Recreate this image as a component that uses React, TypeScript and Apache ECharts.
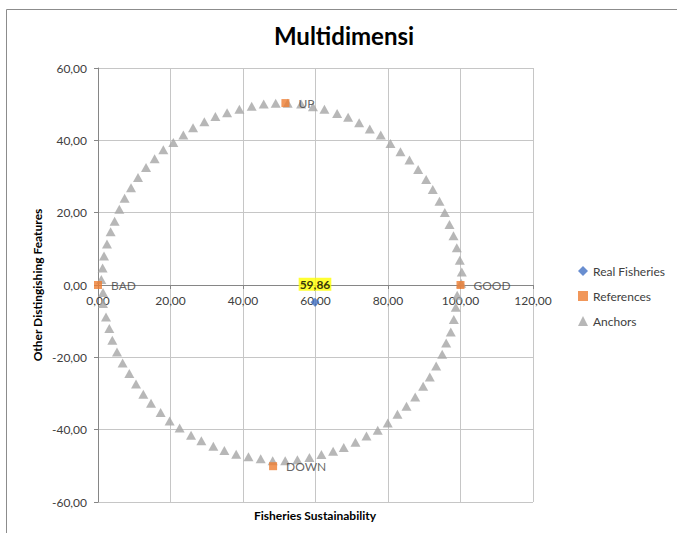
import React, { useEffect, useRef } from "react";
import * as echarts from "echarts";

const titleText = "Multidimensi";
const xAxisName = "Fisheries Sustainability";
const yAxisName = "Other Distingishing Features";
const seriesNames = ["Real Fisheries", "References", "Anchors"];

const realX = [59.86];
const realY = [-4.8];
const realLabels = ["59,86"];

const refNames = ["BAD", "GOOD", "UP", "DOWN"];
const refX = [0, 100, 51.7, 48.3];
const refY = [0, 0, 50.3, -50.1];

const anchorX = [
  0.91, 1.27, 1.66, 2.48, 3.48, 4.58, 5.88, 7.34, 9.11, 11.04, 13.25, 15.62, 18.02, 20.78, 23.54, 26.22,
  29.34, 32.38, 35.61, 39.0, 42.4, 45.71, 49.02, 52.33, 56.03, 59.29, 62.46, 65.97, 69.0, 72.04, 74.97,
  78.0, 80.68, 83.44, 85.92, 88.32, 90.53, 92.35, 94.2, 95.67, 96.96, 98.07, 98.98, 99.81, 100.36, 100.19,
  99.09, 98.7, 98.15, 97.32, 96.05, 94.95, 93.29, 91.53, 89.7, 87.5, 85.1, 82.61, 79.93, 77.17, 74.06,
  71.02, 67.79, 64.86, 61.63, 58.32, 55.01, 51.64, 48.19, 44.88, 41.51, 38.12, 34.86, 31.82, 28.51, 25.67,
  22.52, 19.76, 17.28, 14.63, 12.5, 10.49, 8.64, 6.79, 5.24, 3.95, 3.12, 2.21, 1.38, 1.38,
];
const anchorY = [
  1.52, 4.73, 8.05, 11.37, 14.69, 17.65, 20.97, 24.02, 26.87, 29.75, 32.51, 34.89, 37.38, 39.43, 41.45, 43.47,
  45.13, 46.62, 47.62, 48.56, 49.39, 50.03, 50.22, 50.22, 50.03, 49.28, 48.56, 47.45, 46.35, 44.85, 43.11,
  41.45, 39.15, 36.83, 34.53, 31.96, 29.19, 26.43, 23.19, 20.06, 16.74, 13.59, 10.27, 6.86, 3.62, 0.5,
  -2.82, -6.14, -9.55, -12.98, -16.02, -19.15, -22.39, -25.43, -28.0, -30.96, -33.54, -35.75, -38.16, -40.18, -41.75,
  -43.5, -44.96, -45.99, -46.9, -47.73, -48.34, -48.62, -48.62, -48.06, -47.51, -46.82, -45.79, -44.6, -43.03, -41.56,
  -39.54, -37.6, -35.28, -32.71, -30.22, -27.37, -24.49, -21.56, -18.51, -15.27, -12.04, -8.83, -5.12, -2.08,
];

const FONT = "Lato, 'Noto Sans', sans-serif";
const fmt = (v: number) => v.toFixed(2).replace(".", ",");

const GRID_TOP = 68;
const GRID_BOTTOM = 31;
const CHART_H = 533;

export default function App() {
  const ref = useRef<HTMLDivElement>(null);
  useEffect(() => {
    if (!ref.current) return;
    const chart = echarts.init(ref.current, null, { renderer: "svg" });
    const gridH = CHART_H - GRID_TOP - GRID_BOTTOM;
    chart.setOption({
      animation: false,
      backgroundColor: "#ffffff",
      textStyle: { fontFamily: FONT },
      legend: {
        orient: "vertical",
        left: 573,
        top: 260,
        itemGap: 13,
        itemWidth: 10,
        itemHeight: 10,
        textStyle: { fontFamily: FONT, fontSize: 12, color: "#404040" },
        data: [
          { name: seriesNames[0], icon: "diamond" },
          { name: seriesNames[1], icon: "rect" },
          { name: seriesNames[2], icon: "triangle" },
        ],
      },
      grid: { left: 98, right: 144, top: GRID_TOP, bottom: GRID_BOTTOM, containLabel: false },
      xAxis: {
        type: "value",
        min: 0,
        max: 120,
        interval: 20,
        position: "bottom",
        offset: -gridH / 2,
        axisLine: { onZero: false, lineStyle: { color: "#868686", width: 1 } },
        axisTick: { show: true, length: 4, lineStyle: { color: "#868686" } },
        axisLabel: { formatter: fmt, fontFamily: FONT, fontSize: 12, color: "#404040", margin: 9 },
        splitLine: { show: true, lineStyle: { color: "#c6c6c6", width: 1 } },
      },
      yAxis: {
        type: "value",
        min: -60,
        max: 60,
        interval: 20,
        axisLine: { show: true, onZero: false, lineStyle: { color: "#868686", width: 1 } },
        axisTick: { show: true, length: 4, lineStyle: { color: "#868686" } },
        axisLabel: { formatter: fmt, fontFamily: FONT, fontSize: 12, color: "#404040", margin: 11 },
        splitLine: { show: true, lineStyle: { color: "#c6c6c6", width: 1 } },
      },
      graphic: [
        {
          type: "rect",
          silent: true,
          shape: { x: 6.5, y: 9.5, width: 800, height: 700 },
          style: { fill: "none", stroke: "#8c8c8c", lineWidth: 1 },
        },
        {
          type: "text",
          x: 344,
          y: 35,
          style: {
            text: titleText,
            fontFamily: FONT,
            fontSize: 24,
            fontWeight: "bold",
            fill: "#000",
            align: "center",
            verticalAlign: "middle",
          },
        },
        {
          type: "text",
          x: 315,
          y: 515,
          style: {
            text: xAxisName,
            fontFamily: FONT,
            fontSize: 12,
            fontWeight: "bold",
            fill: "#000",
            align: "center",
            verticalAlign: "middle",
          },
        },
        {
          type: "text",
          x: 37,
          y: 285,
          rotation: Math.PI / 2,
          style: {
            text: yAxisName,
            fontFamily: FONT,
            fontSize: 12,
            fontWeight: "bold",
            fill: "#000",
            align: "center",
            verticalAlign: "middle",
          },
        },
      ],
      series: [
        {
          name: seriesNames[2],
          type: "scatter",
          symbol: "triangle",
          symbolSize: [10, 9],
          itemStyle: { color: "#a5a5a5" },
          data: anchorX.map((x, i) => [x, anchorY[i]]),
          z: 2,
        },
        {
          name: seriesNames[1],
          type: "scatter",
          symbol: "rect",
          symbolSize: 8,
          itemStyle: { color: "#ed7d31" },
          label: {
            show: true,
            position: "right",
            distance: 9,
            formatter: "{b}",
            fontFamily: FONT,
            fontSize: 12,
            color: "#404040",
          },
          data: refNames.map((n, i) => ({ name: n, value: [refX[i], refY[i]] })),
          z: 3,
        },
        {
          name: seriesNames[0],
          type: "scatter",
          symbol: "diamond",
          symbolSize: 9,
          itemStyle: { color: "#4472c4" },
          label: {
            show: true,
            position: "top",
            distance: 7,
            formatter: "{b}",
            fontFamily: FONT,
            fontSize: 12,
            fontWeight: "bold",
            color: "#000",
            backgroundColor: "#ffff00",
            padding: [1, 1, 0, 1],
          },
          data: realX.map((x, i) => ({ name: realLabels[i], value: [x, realY[i]] })),
          z: 4,
        },
      ],
    });
    return () => chart.dispose();
  }, []);
  return (
    <div
      ref={ref}
      style={{ position: "absolute", left: 0, top: 0, width: 677, height: 533 }}
    />
  );
}
